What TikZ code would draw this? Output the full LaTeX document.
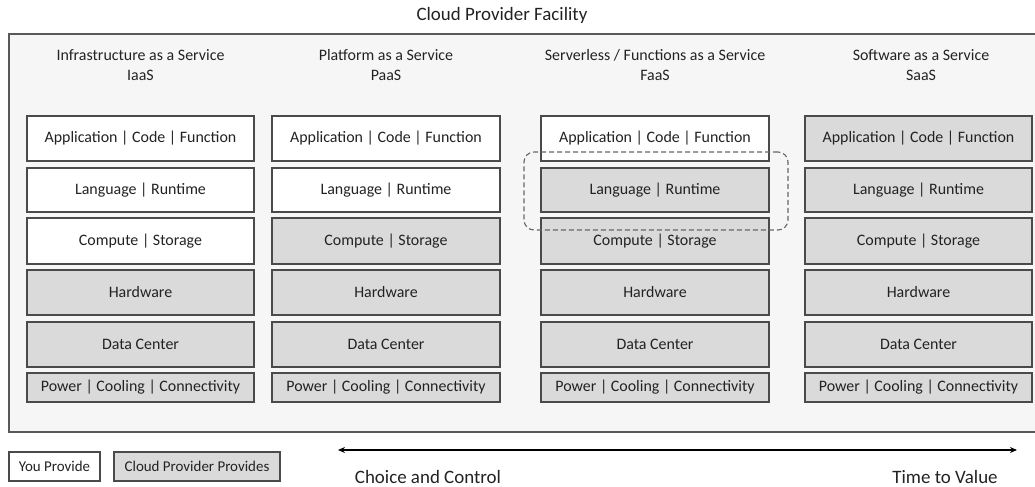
\documentclass[tikz,border=0pt]{standalone}
\usepackage{fontspec}
\setmainfont{Carlito}
\usetikzlibrary{arrows.meta}
\definecolor{cloudgray}{HTML}{DADADA}
\definecolor{framefill}{HTML}{F6F6F6}
\definecolor{edge}{HTML}{4A4A4A}
\definecolor{ink}{HTML}{222222}
\begin{document}
\begin{tikzpicture}[x=1bp,y=-1bp,
  layer/.style={draw=edge, line width=1.1bp, inner sep=0pt, text=ink,
    font=\fontsize{16}{19}\selectfont},
  head/.style={align=center, text=ink, inner sep=0pt, font=\fontsize{16}{20}\selectfont},
  big/.style={text=ink, inner sep=0pt, font=\fontsize{19}{22}\selectfont},
  legendbox/.style={draw=edge, line width=1.1bp, inner sep=0pt, text=ink,
    minimum height=29bp, font=\fontsize{15}{18}\selectfont},
  fence/.style={draw=black!60, dashed, dash pattern=on 5bp off 3bp, line width=1.1bp, rounded corners=10bp}
]
\useasboundingbox (0,0) rectangle (1035,487);
% outer facility frame (right edge lies beyond the picture)
\node[draw=black!65, fill=framefill, line width=1.2bp, minimum width=1034bp, minimum height=398bp, inner sep=0pt] (frame) at (526,233) {};
\node[big] (title) at (502,15) {Cloud Provider Facility};
% column headers
\node[head] (h1) at (140.5,65) {Infrastructure as a Service\\IaaS};
\node[head] (h2) at (386,65) {Platform as a Service\\PaaS};
\node[head] (h3) at (655,65) {Serverless / Functions as a Service\\FaaS};
\node[head] (h4) at (921,65) {Software as a Service\\SaaS};
% layer stacks
\foreach \c/\cx/\w/\n in {1/140.5/227/3, 2/386/228/2, 3/655/228/1, 4/918.5/227/0} {
  \foreach \r/\cy/\h/\t in {1/138.5/45/{Application | Code | Function}, 2/190/44/{Language | Runtime}, 3/241/46/{Compute | Storage}, 4/292.5/45/{Hardware}, 5/344.5/45/{Data Center}, 6/387.5/29/{Power | Cooling | Connectivity}} {
    \ifnum\r>\n \def\boxfill{cloudgray}\else\def\boxfill{white}\fi
    \node[layer, fill=\boxfill, minimum width=\w bp, minimum height=\h bp] (b\c-\r) at (\cx,\cy) {\t};
  }
}
% dashed grouping in FaaS column
\node[fence, minimum width=264bp, minimum height=78bp, inner sep=0pt] (group) at (656,191) {};
% legend
\node[legendbox, fill=white, minimum width=91bp] (you) at (54.5,466.5) {You Provide};
\node[legendbox, fill=cloudgray, minimum width=166bp] (prov) at (197,466.5) {Cloud Provider Provides};
% arrow
\coordinate (aL) at (338,450);
\coordinate (aR) at (1017,450);
\draw[{Stealth[length=7bp,width=6bp]}-{Stealth[length=7bp,width=6bp]}, line width=1.4bp, black] (aL) -- (aR);
\node[big] (cc) at (428,477) {Choice and Control};
\node[big] (tv) at (945,477) {Time to Value};
\end{tikzpicture}
\end{document}
